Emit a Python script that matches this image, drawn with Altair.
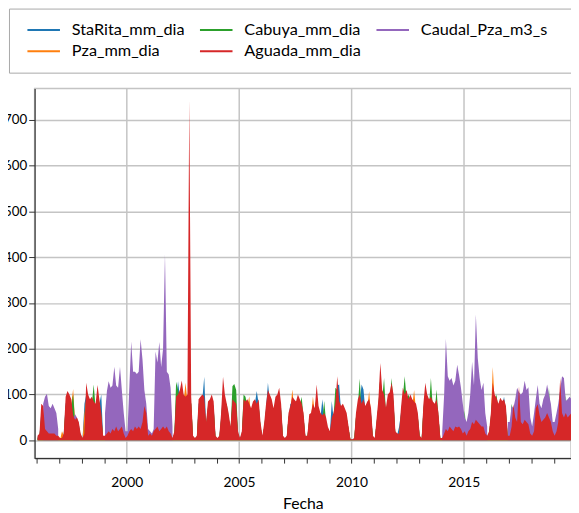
import altair as alt
import pandas as pd

years = list(range(1996, 2020))
months = list(range(1, 13))

# Monthly envelope values (one row per year, Jan..Dec)
aguada = [
    [10, 15, 80, 75, 25, 20, 15, 15, 15, 15, 10, 10],
    [5, 5, 15, 95, 108, 100, 90, 55, 45, 50, 40, 15],
    [5, 15, 126, 100, 90, 95, 85, 80, 121, 90, 60, 10],
    [10, 15, 20, 15, 25, 20, 30, 20, 25, 30, 15, 5],
    [10, 20, 25, 20, 30, 25, 30, 25, 40, 75, 60, 10],
    [15, 10, 20, 25, 30, 20, 25, 30, 25, 30, 20, 15],
    [5, 20, 95, 100, 110, 131, 100, 95, 100, 745, 95, 10],
    [5, 10, 90, 95, 100, 95, 40, 85, 90, 100, 85, 10],
    [5, 10, 60, 139, 100, 80, 60, 30, 90, 85, 80, 20],
    [5, 20, 90, 85, 90, 80, 70, 85, 90, 80, 90, 40],
    [10, 40, 80, 110, 100, 90, 70, 95, 100, 115, 80, 10],
    [5, 10, 60, 75, 95, 90, 85, 100, 90, 80, 60, 10],
    [10, 57, 60, 80, 70, 122, 75, 60, 55, 60, 50, 29],
    [20, 50, 60, 80, 140, 86, 75, 80, 70, 60, 30, 3],
    [2, 5, 60, 90, 100, 80, 90, 75, 85, 90, 70, 10],
    [5, 50, 90, 169, 110, 100, 72, 100, 105, 126, 100, 20],
    [15, 15, 70, 115, 100, 110, 90, 100, 90, 85, 80, 60],
    [10, 5, 80, 126, 100, 90, 95, 85, 80, 90, 60, 5],
    [5, 15, 25, 20, 30, 25, 20, 30, 28, 30, 25, 15],
    [20, 10, 20, 25, 40, 35, 45, 40, 35, 30, 30, 15],
    [10, 20, 60, 126, 100, 93, 80, 93, 86, 90, 75, 10],
    [10, 30, 79, 50, 40, 118, 40, 35, 45, 40, 35, 15],
    [10, 20, 70, 79, 55, 40, 45, 50, 60, 50, 40, 20],
    [10, 20, 40, 136, 60, 50, 60, 50, 55, 60, 50, 30],
]

N = None
caudal = [
    [N, N, N, 80, 95, 102, 75, 70, 80, 70, 60, 25],
    [N, N, N, N, N, N, N, 45, 57, 50, 35, N],
    [N, N, N, N, N, N, N, N, N, N, N, N],
    [60, 108, 129, 115, 120, 161, 120, 115, 161, 110, 60, 20],
    [20, 120, 216, 150, 150, 145, 150, 221, 176, 110, 80, 25],
    [20, 15, 25, 194, 170, 215, 160, 200, 407, 150, 144, 115],
    [30, N, N, N, N, N, N, N, N, N, N, N],
    [N, N, N, N, N, N, N, N, N, N, N, N],
    [N, N, N, N, N, N, N, N, N, N, N, N],
    [N, N, N, N, N, N, N, N, N, N, N, N],
    [N, N, N, N, N, N, N, N, N, N, N, N],
    [N, N, N, N, N, N, N, N, N, N, N, N],
    [N, N, N, N, N, N, N, N, N, N, N, N],
    [N, N, N, N, N, N, N, N, N, N, N, N],
    [N, N, N, N, N, N, N, N, N, N, N, N],
    [N, N, N, N, N, N, N, N, N, N, N, N],
    [N, N, N, N, N, N, N, N, N, N, N, N],
    [N, N, N, N, N, N, N, N, N, N, N, N],
    [20, 100, 222, 140, 130, 136, 120, 130, 165, 143, 115, 80],
    [50, 40, 60, 100, 172, 120, 275, 180, 136, 110, 126, 60],
    [30, N, N, N, N, N, N, N, N, N, N, 40],
    [40, 75, 70, 90, 115, 105, 100, 105, 130, 110, 116, 50],
    [30, 60, 90, 121, 80, 70, 90, 100, 122, 100, 80, 40],
    [40, 60, 80, 110, 140, 136, 86, 90, 95, 90, 80, 60],
]

starita = [
    [8, 10, 60, 60, 20, 15, 12, 12, 12, 10, 8, 5],
    [3, 4, 12, 80, 90, 85, 70, 45, 40, 45, 35, 10],
    [5, 80, 100, 85, 80, 85, 70, 70, 100, 80, 100, 8],
    [8, 12, 15, 12, 20, 15, 25, 15, 20, 25, 12, 4],
    [8, 15, 20, 15, 25, 20, 25, 20, 35, 60, 50, 8],
    [10, 8, 15, 20, 25, 15, 20, 25, 20, 25, 15, 10],
    [4, 15, 85, 129, 95, 110, 90, 80, 85, 90, 80, 8],
    [4, 8, 80, 85, 90, 139, 35, 75, 80, 85, 75, 8],
    [4, 8, 50, 110, 85, 70, 50, 25, 80, 75, 70, 15],
    [4, 15, 75, 70, 80, 70, 60, 75, 80, 108, 80, 30],
    [8, 30, 70, 126, 85, 80, 60, 80, 85, 95, 70, 8],
    [4, 8, 50, 80, 80, 75, 70, 85, 75, 70, 50, 8],
    [8, 45, 50, 70, 60, 100, 65, 50, 90, 50, 40, 20],
    [15, 86, 50, 70, 120, 122, 65, 70, 60, 50, 25, 2],
    [2, 4, 50, 75, 85, 122, 111, 65, 70, 75, 60, 8],
    [4, 40, 75, 140, 95, 85, 60, 85, 90, 105, 85, 15],
    [12, 30, 60, 95, 85, 95, 75, 85, 75, 70, 70, 50],
    [8, 4, 70, 105, 85, 75, 80, 70, 70, 75, 50, 4],
    [4, 12, 20, 15, 25, 20, 15, 25, 22, 25, 20, 12],
    [15, 8, 15, 20, 35, 30, 40, 35, 30, 25, 25, 12],
    [8, 15, 50, 105, 85, 80, 70, 80, 75, 95, 65, 8],
    [8, 25, 65, 70, 35, 100, 35, 30, 40, 35, 30, 12],
    [8, 15, 60, 65, 45, 35, 40, 45, 50, 45, 35, 15],
    [8, 15, 35, 115, 50, 45, 50, 45, 45, 50, 45, 25],
]

pza = [
    [5, 10, 40, 50, 20, 25, 20, 10, 10, 8, 5, 4],
    [2, 20, 10, 70, 85, 80, 80, 112, 40, 40, 30, 8],
    [4, 60, 90, 80, 75, 80, 70, 65, 90, 75, 50, 5],
    [5, 10, 12, 10, 18, 15, 22, 15, 18, 22, 10, 3],
    [5, 12, 18, 15, 22, 18, 22, 18, 30, 55, 45, 5],
    [8, 5, 12, 18, 22, 15, 18, 22, 18, 22, 12, 8],
    [3, 12, 75, 80, 90, 100, 85, 126, 85, 95, 80, 5],
    [3, 5, 70, 80, 85, 80, 30, 70, 75, 85, 70, 5],
    [3, 5, 45, 100, 80, 65, 50, 20, 75, 70, 65, 12],
    [3, 12, 70, 70, 75, 96, 55, 70, 75, 70, 75, 30],
    [5, 30, 65, 90, 100, 75, 55, 75, 80, 90, 65, 5],
    [3, 5, 50, 65, 111, 75, 70, 80, 75, 65, 50, 5],
    [5, 45, 50, 96, 60, 100, 60, 50, 45, 50, 40, 20],
    [12, 40, 50, 65, 110, 70, 60, 79, 55, 50, 25, 2],
    [1, 3, 50, 75, 80, 65, 75, 60, 70, 107, 55, 5],
    [3, 40, 75, 140, 90, 80, 60, 85, 85, 105, 80, 15],
    [10, 10, 55, 95, 85, 90, 75, 85, 75, 110, 65, 50],
    [5, 3, 65, 105, 85, 75, 80, 70, 65, 75, 50, 3],
    [3, 10, 20, 15, 25, 20, 15, 25, 22, 25, 20, 10],
    [15, 8, 15, 20, 30, 30, 35, 30, 30, 25, 25, 10],
    [5, 15, 50, 160, 85, 75, 65, 75, 70, 75, 60, 5],
    [5, 25, 60, 40, 35, 95, 30, 30, 35, 30, 30, 10],
    [5, 15, 55, 65, 45, 30, 35, 40, 50, 40, 35, 15],
    [5, 15, 30, 110, 50, 40, 50, 40, 45, 50, 40, 25],
]

cabuya = [
    [5, 10, 50, 55, 20, 15, 12, 12, 12, 10, 8, 5],
    [2, 4, 10, 75, 85, 80, 75, 100, 40, 40, 30, 8],
    [4, 10, 95, 85, 80, 80, 122, 70, 95, 80, 55, 5],
    [5, 10, 12, 10, 18, 15, 22, 15, 18, 22, 10, 3],
    [5, 12, 18, 15, 22, 18, 22, 18, 30, 55, 45, 5],
    [8, 5, 12, 18, 22, 15, 18, 22, 18, 22, 12, 8],
    [3, 15, 128, 110, 90, 100, 85, 80, 85, 95, 80, 5],
    [3, 5, 70, 80, 85, 80, 30, 70, 75, 85, 70, 5],
    [3, 5, 45, 100, 80, 80, 50, 20, 118, 123, 110, 12],
    [3, 12, 100, 95, 75, 70, 55, 70, 75, 70, 75, 30],
    [5, 30, 65, 90, 85, 75, 55, 75, 80, 90, 65, 5],
    [3, 5, 50, 65, 80, 75, 70, 80, 75, 95, 50, 5],
    [5, 45, 50, 70, 60, 100, 60, 50, 45, 86, 40, 20],
    [12, 40, 50, 115, 110, 70, 60, 70, 55, 50, 25, 2],
    [1, 3, 50, 75, 135, 65, 75, 60, 70, 75, 55, 5],
    [3, 40, 75, 140, 90, 136, 60, 85, 85, 136, 80, 15],
    [10, 10, 55, 95, 140, 90, 100, 85, 75, 70, 65, 50],
    [5, 3, 65, 105, 85, 75, 136, 70, 65, 111, 50, 3],
    [3, 10, 20, 15, 25, 20, 15, 25, 22, 25, 20, 10],
    [65, 8, 15, 20, 30, 30, 35, 30, 30, 25, 25, 10],
    [5, 15, 50, 105, 85, 100, 65, 75, 70, 75, 60, 5],
    [5, 80, 60, 40, 35, 95, 30, 30, 35, 30, 30, 10],
    [5, 15, 55, 65, 45, 30, 35, 40, 50, 115, 35, 15],
    [5, 15, 30, 110, 50, 40, 100, 40, 45, 50, 40, 25],
]

series = {
    "StaRita_mm_dia": starita,
    "Pza_mm_dia": pza,
    "Cabuya_mm_dia": cabuya,
    "Caudal_Pza_m3_s": caudal,
    "Aguada_mm_dia": aguada,
}
draw_order = ["StaRita_mm_dia", "Pza_mm_dia", "Cabuya_mm_dia", "Caudal_Pza_m3_s", "Aguada_mm_dia"]
legend_order = ["StaRita_mm_dia", "Pza_mm_dia", "Cabuya_mm_dia", "Aguada_mm_dia", "Caudal_Pza_m3_s"]
legend_colors = ["#1f77b4", "#ff7f0e", "#2ca02c", "#d62728", "#9467bd"]

rows = []
for name, table in series.items():
    for yi, y in enumerate(years):
        for mi, m in enumerate(months):
            rows.append({"fecha": f"{y}-{m:02d}-15", "serie": name, "valor": table[yi][mi]})
df = pd.DataFrame(rows)

x_enc = alt.X(
    "fecha:T",
    scale=alt.Scale(
        type="utc",
        domain=[alt.DateTime(year=1995, month=11, date=28, utc=True),
                alt.DateTime(year=2019, month=10, date=8, utc=True)],
    ),
    axis=alt.Axis(
        values=[alt.DateTime(year=y, month=1, date=1, utc=True) for y in years],
        labelExpr="utcyear(datum.value) % 5 == 0 ? utcFormat(datum.value, '%Y') : ''",
        gridOpacity={"condition": {"test": "utcyear(datum.value) % 5 == 0", "value": 1}, "value": 0},
        title="Fecha",
        tickSize=5,
        labelPadding=13,
        titlePadding=6,
        titleFontSize=16,
        titleFontWeight="normal",
        labelFontSize=14,
    ),
)
y_enc = alt.Y(
    "valor:Q",
    scale=alt.Scale(domain=[-39, 769], nice=False, zero=False),
    axis=alt.Axis(values=list(range(0, 800, 100)), title=None, tickSize=6,
                  labelPadding=2, labelFontSize=13.5),
)
color_enc = alt.Color(
    "serie:N",
    scale=alt.Scale(domain=legend_order, range=legend_colors),
    legend=alt.Legend(
        orient="none", legendX=-26, legendY=-81, columns=3,
        title="\u00a0", titleOrient="right", titlePadding=40, titleFontSize=8,
        strokeColor="#a8a8a8", fillColor="white", padding=12.7,
        symbolType="M-1,-0.065L1,-0.065L1,0.065L-1,0.065Z", symbolStrokeWidth=0,
        symbolSize=1089, symbolOffset=6, clipHeight=18,
        labelFontSize=16.5, labelOffset=12, columnPadding=9, rowPadding=3.6,
    ),
)

base = alt.Chart(df).encode(x=x_enc, y=y_enc, color=color_enc)
layers = [
    base.transform_filter(alt.datum.serie == s).mark_area(
        clip=True, interpolate="linear", invalid="break-paths-show-domains"
    )
    for s in draw_order
]

chart = alt.layer(*layers).properties(
    width=544, height=375,
    autosize=alt.AutoSizeParams(type="none"),
    padding={"left": 27, "top": 78, "right": 0, "bottom": 51},
).configure(font="Lato").configure_view(stroke="#c4c4c4", strokeWidth=1.5).configure_axis(
    domainColor="#333333", tickColor="#333333", labelColor="#000000",
    titleColor="#000000", gridColor="#c4c4c4", gridWidth=1.5, domainWidth=1.2,
)

chart.save("out.html", embed_options={"renderer": "svg", "actions": False})
